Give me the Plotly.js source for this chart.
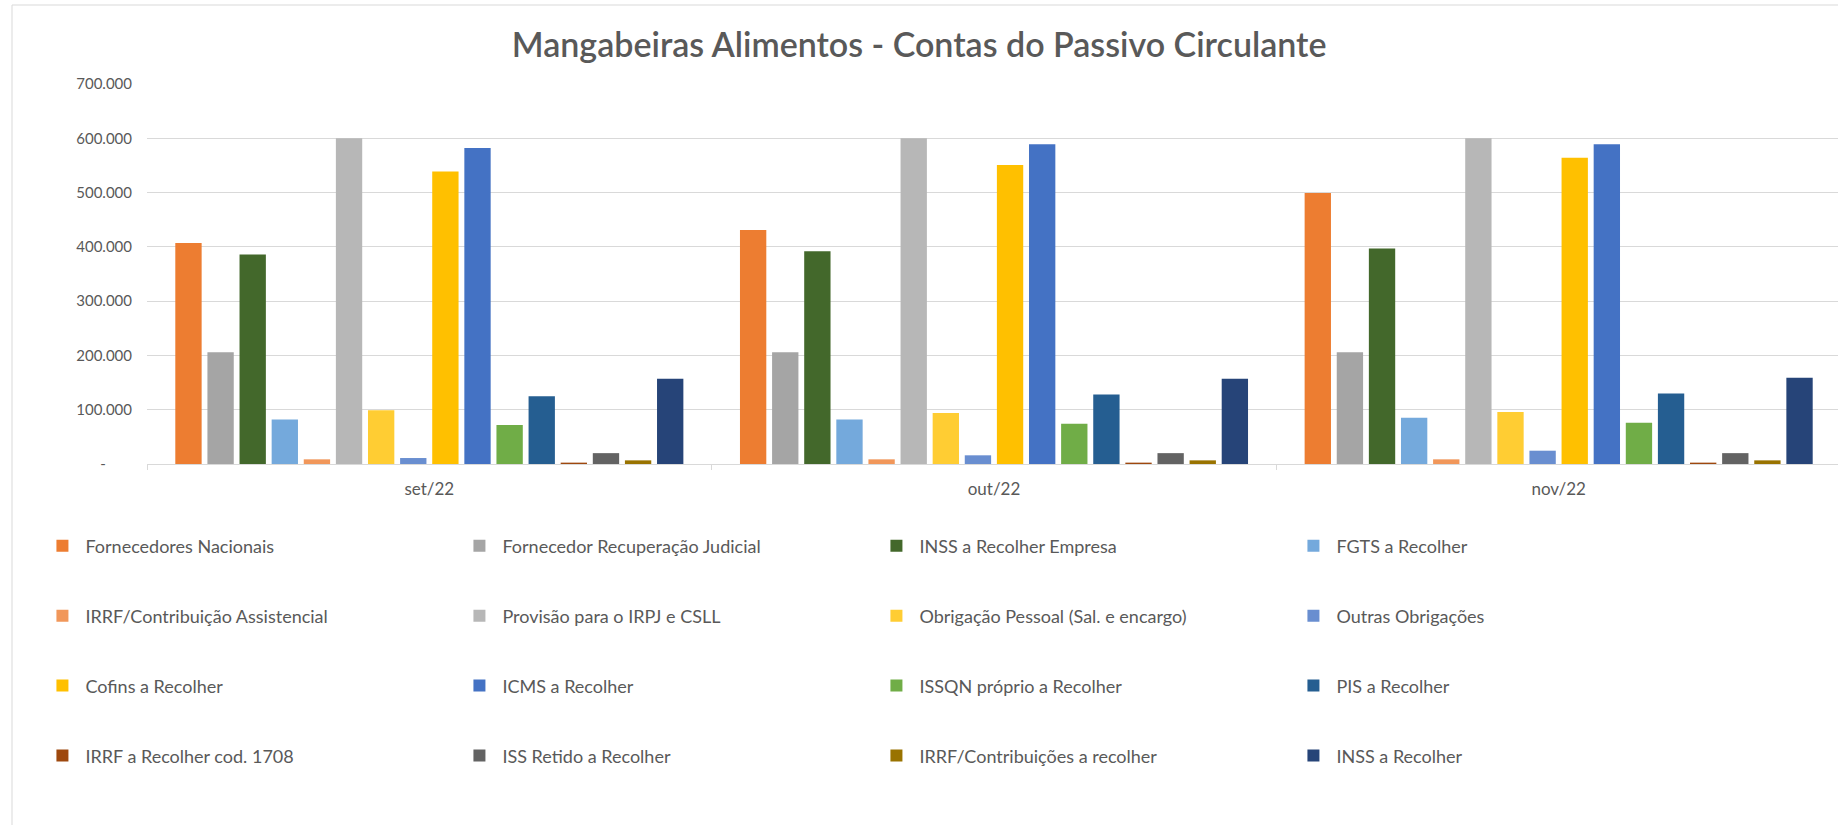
<!DOCTYPE html>
<html>
<head>
<meta charset="utf-8">
<script src="https://cdn.plot.ly/plotly-3.0.1.min.js"></script>
<style>
    html, body { margin: 0; padding: 0; overflow: hidden; background: #fff; }
    #chart { width: 1842px; height: 825px; }
</style>
</head>
<body>
<div id="chart"></div>
<script>
// Months on the x axis
var months = ['set/22', 'out/22', 'nov/22'];

// Accounts (one trace each), in legend order
var accounts = [
    'Fornecedores Nacionais',
    'Fornecedor Recuperação Judicial',
    'INSS a Recolher Empresa',
    'FGTS a Recolher',
    'IRRF/Contribuição Assistencial',
    'Provisão para o IRPJ e CSLL',
    'Obrigação Pessoal (Sal. e encargo)',
    'Outras Obrigações',
    'Cofins a Recolher',
    'ICMS a Recolher',
    'ISSQN próprio a Recolher',
    'PIS a Recolher',
    'IRRF a Recolher cod. 1708',
    'ISS Retido a Recolher',
    'IRRF/Contribuições a recolher',
    'INSS a Recolher'
];

// Values per month, same order as accounts
var set22 = [407000, 206000, 386000, 82000, 8600, 600000, 99000, 11000, 539000, 582000, 72000, 125000, 2500, 20000, 6700, 157000];
var out22 = [431000, 206000, 392000, 82000, 8600, 600000, 94000, 16000, 551000, 589000, 74000, 128000, 2500, 20000, 6700, 157000];
var nov22 = [499000, 206000, 397000, 85000, 8600, 600000, 96000, 24500, 564000, 589000, 76000, 130000, 2500, 20000, 6700, 159000];

// Y axis ticks (zero shown as a dash, accounting style)
var yTickVals = [0, 100000, 200000, 300000, 400000, 500000, 600000, 700000];
var yTickText = ['-\u2007\u2007\u2007', '100.000', '200.000', '300.000', '400.000', '500.000', '600.000', '700.000'];

var colors = [
    '#ED7D31', '#A5A5A5', '#43682B', '#74A9DC',
    '#F1975A', '#B7B7B7', '#FFCD33', '#698ED0',
    '#FFC000', '#4472C4', '#70AD47', '#255E91',
    '#9E480E', '#636363', '#997300', '#264478'
];

var textColor = '#595959';
var fontFamily = 'Lato, "Open Sans", sans-serif';

var data = [];
for (let i = 0; i < accounts.length; i++) {
    // 4 entries per legend row, one legend per row
    var row = Math.floor(i / 4);
    data.push({
        type: 'bar',
        name: accounts[i],
        x: months,
        y: [set22[i], out22[i], nov22[i]],
        marker: {color: colors[i]},
        legend: row === 0 ? 'legend' : 'legend' + (row + 1)
    });
}

function legendRow(y) {
    return {
        orientation: 'h',
        x: -0.0635,
        xanchor: 'left',
        y: y,
        yanchor: 'middle',
        itemwidth: 36,
        entrywidth: 366,
        entrywidthmode: 'pixels',
        font: {family: fontFamily, size: 18, color: textColor},
        bgcolor: 'rgba(0,0,0,0)'
    };
}

var layout = {
    width: 1842,
    height: 825,
    paper_bgcolor: '#ffffff',
    plot_bgcolor: '#ffffff',
    font: {family: fontFamily, color: textColor},
    title: {
        text: 'Mangabeiras Alimentos - Contas do Passivo Circulante',
        font: {family: fontFamily, size: 34, weight: 600, color: textColor},
        xref: 'container',
        x: 0.499,
        xanchor: 'center',
        yref: 'container',
        y: 1 - 45 / 825,
        yanchor: 'middle'
    },
    margin: {l: 147, r: 1, t: 84, b: 361},
    barmode: 'group',
    bargap: 0.09,
    bargroupgap: 0.18,
    xaxis: {
        type: 'category',
        showline: true,
        linecolor: '#d9d9d9',
        linewidth: 1,
        showgrid: false,
        ticks: 'outside',
        tickson: 'boundaries',
        ticklen: 5,
        tickcolor: '#d9d9d9',
        ticklabelstandoff: 10,
        tickfont: {family: fontFamily, size: 17, color: textColor}
    },
    yaxis: {
        range: [0, 700000],
        tickvals: yTickVals,
        ticktext: yTickText,
        showgrid: true,
        gridcolor: '#d9d9d9',
        gridwidth: 1,
        zeroline: false,
        showline: false,
        ticklabelstandoff: 14,
        tickfont: {family: fontFamily, size: 15, color: textColor}
    },
    showlegend: true,
    legend: legendRow(-0.216),
    legend2: legendRow(-0.400),
    legend3: legendRow(-0.584),
    legend4: legendRow(-0.768),
    shapes: [{
        // chart frame (left and top edges; right and bottom are cut off)
        type: 'rect',
        xref: 'paper', yref: 'paper',
        x0: (12 - 147) / 1694, x1: 1.01,
        y0: (464 - 840) / 380, y1: (464 - 5) / 380,
        line: {color: '#d9d9d9', width: 1},
        fillcolor: 'rgba(0,0,0,0)',
        layer: 'below'
    }]
};

var config = {displayModeBar: false, staticPlot: true};

Plotly.newPlot('chart', data, layout, config);
</script>
</body>
</html>
